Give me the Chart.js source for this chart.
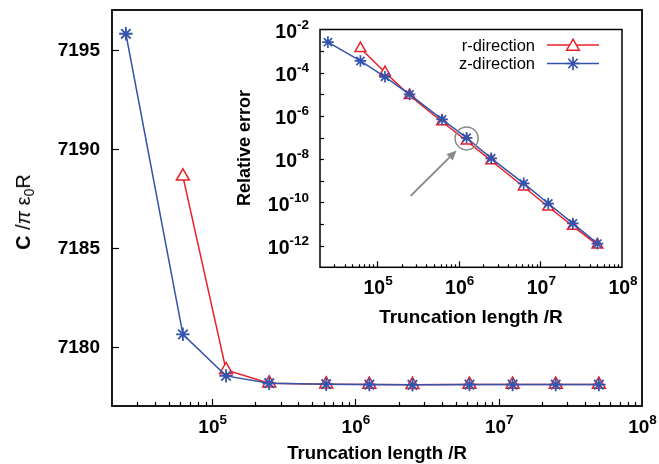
<!DOCTYPE html>
<html><head><meta charset="utf-8">
<script src="https://cdn.jsdelivr.net/npm/chart.js@4/dist/chart.umd.min.js"></script>
<style>
html,body{margin:0;padding:0;background:#fff;}
#wrap{position:relative;width:659px;height:464px;overflow:hidden;font-family:"Liberation Sans",Arial,Helvetica,sans-serif;}
canvas{position:absolute;left:0;top:0;}
.lbl{position:absolute;white-space:nowrap;color:#000;}
.sup{position:relative;line-height:0;}
</style></head><body>
<div id="wrap">
<canvas id="main" width="659" height="464"></canvas>
<canvas id="inset" width="659" height="464"></canvas>
</div>
<script>
// ---- data ----
const truncLength = [2.5e4, 6.25e4, 1.25e5, 2.5e5, 6.25e5, 1.25e6, 2.5e6, 6.25e6, 1.25e7, 2.5e7, 5e7];
const capZ = [7195.8, 7180.62, 7178.52, 7178.15, 7178.1, 7178.08, 7178.07, 7178.08, 7178.08, 7178.08, 7178.08];
const capR = [null, 7188.6, 7178.82, 7178.15, 7178.1, 7178.08, 7178.07, 7178.08, 7178.08, 7178.08, 7178.08];
const errZ = [2.6e-3, 3.5e-4, 6.5e-5, 1.0e-5, 6.9e-7, 9.8e-8, 1.1e-8, 7.6e-10, 8.9e-11, 1.07e-11, 1.25e-12];
const errR = [null, 1.35e-3, 1.05e-4, 9e-6, 5.4e-7, 7e-8, 8.5e-9, 5.3e-10, 6.3e-11, 8e-12, 1.1e-12];
const seriesNames = ['r-direction', 'z-direction'];
const mainYTicks = [7180, 7185, 7190, 7195];
const mainXTickExp = [5, 6, 7, 8];
const insetXTickExp = [5, 6, 7, 8];
const insetYTickExp = [-2, -4, -6, -8, -10, -12];
const annotatedIndex = 5;

const RED = '#e8202a', BLUE = '#3354ac', GRAY = '#8a8a8a';
const wrap = document.getElementById('wrap');

function pts(xs, ys) { const o = []; xs.forEach((x, i) => { if (ys[i] != null) o.push({x: x, y: ys[i]}); }); return o; }

function lbl(html, x, base, size, align, bold) {
  const d = document.createElement('div');
  d.className = 'lbl';
  d.innerHTML = html;
  d.style.fontSize = size + 'px';
  d.style.lineHeight = size + 'px';
  d.style.fontWeight = bold ? 'bold' : 'normal';
  d.style.left = x + 'px';
  d.style.top = (base - size * 0.8465) + 'px';
  if (align === 'center') d.style.transform = 'translateX(-50%)';
  else if (align === 'right') d.style.transform = 'translateX(-100%)';
  wrap.appendChild(d);
  return d;
}
function vlbl(html, cx, cy, size, bold) {
  const d = document.createElement('div');
  d.className = 'lbl';
  d.innerHTML = html;
  d.style.fontSize = size + 'px';
  d.style.lineHeight = size + 'px';
  d.style.fontWeight = bold ? 'bold' : 'normal';
  d.style.left = cx + 'px';
  d.style.top = cy + 'px';
  d.style.transform = 'translate(-50%,-50%) rotate(-90deg)';
  wrap.appendChild(d);
}
function pow10(e, supSize, raise) {
  return '10<span class="sup" style="font-size:' + supSize + 'px;top:-' + raise + 'px">' + e + '</span>';
}

function drawTri(ctx, x, y, r) {
  ctx.beginPath();
  for (let k = 0; k < 3; k++) {
    const a = k * 2 * Math.PI / 3;
    const px = x + Math.sin(a) * r, py = y - Math.cos(a) * r;
    k ? ctx.lineTo(px, py) : ctx.moveTo(px, py);
  }
  ctx.closePath(); ctx.fillStyle = '#fff'; ctx.fill(); ctx.stroke();
}
function drawStar(ctx, x, y, r) {
  ctx.beginPath();
  ctx.moveTo(x - r, y); ctx.lineTo(x + r, y);
  ctx.moveTo(x, y - r); ctx.lineTo(x, y + r);
  const d = r * Math.SQRT1_2;
  ctx.moveTo(x - d, y - d); ctx.lineTo(x + d, y + d);
  ctx.moveTo(x - d, y + d); ctx.lineTo(x + d, y - d);
  ctx.stroke();
}

function baseOptions(yType, ymin, ymax, padding) {
  return {
    responsive: false, animation: false, devicePixelRatio: 1, events: [],
    layout: {padding: padding},
    plugins: {legend: {display: false}, tooltip: {enabled: false}, title: {display: false}},
    scales: {
      x: {type: 'logarithmic', min: 2e4, max: 1e8, ticks: {display: false},
          grid: {display: false, drawTicks: false}, border: {display: false},
          afterFit: s => { s.height = 0; }},
      y: {type: yType, min: ymin, max: ymax, ticks: {display: false},
          grid: {display: false, drawTicks: false}, border: {display: false},
          afterFit: s => { s.width = 0; }}
    }
  };
}

function ds(label, data, color, style, r, order, pbw) {
  return {label: label, data: data, borderColor: color, borderWidth: 1.5, tension: 0,
    pointStyle: style, pointRadius: r, pointBorderColor: color, pointBorderWidth: pbw,
    pointBackgroundColor: '#fff', fill: false, clip: false, order: order};
}

function minorTicks(ctx, xs, area, majLen, minLen) {
  for (let e = 4; e <= 7; e++) {
    for (let m = 1; m <= 9; m++) {
      const v = m * Math.pow(10, e);
      if (v <= xs.min * 1.0001 || v >= xs.max * 0.9999) continue;
      const px = Math.round(xs.getPixelForValue(v)) + 0.5;
      const len = m === 1 ? majLen : minLen;
      ctx.beginPath(); ctx.moveTo(px, area.bottom); ctx.lineTo(px, area.bottom - len); ctx.stroke();
    }
  }
}

// ---- main chart ----
const mainPlugin = {
  id: 'mainDeco',
  afterDraw(chart) {
    const ctx = chart.ctx, a = chart.chartArea, xs = chart.scales.x, ys = chart.scales.y;
    ctx.save();
    ctx.strokeStyle = '#000'; ctx.lineWidth = 1.2;
    minorTicks(ctx, xs, a, 7, 4);
    mainYTicks.forEach(v => {
      const py = Math.round(ys.getPixelForValue(v)) + 0.5;
      ctx.beginPath(); ctx.moveTo(a.left, py); ctx.lineTo(a.left + 7, py); ctx.stroke();
    });
    ctx.lineWidth = 1.8;
    ctx.strokeRect(a.left, a.top, a.right - a.left, a.bottom - a.top);
    ctx.restore();
  }
};
const mainChart = new Chart(document.getElementById('main'), {
  type: 'line',
  data: {datasets: [
    ds(seriesNames[0], pts(truncLength, capR), RED, 'triangle', 7.5, 1, 1.5),
    ds(seriesNames[1], pts(truncLength, capZ), BLUE, 'star', 6.7, 0, 1.8)
  ]},
  options: baseOptions('linear', 7177, 7197, {left: 112, top: 10, right: 17, bottom: 58}),
  plugins: [mainPlugin]
});

// ---- inset chart ----
const insetPlugin = {
  id: 'insetDeco',
  beforeDatasetsDraw(chart) {
    const ctx = chart.ctx, a = chart.chartArea;
    ctx.save(); ctx.fillStyle = '#fff'; ctx.fillRect(a.left, a.top, a.right - a.left, a.bottom - a.top); ctx.restore();
  },
  afterDraw(chart) {
    const ctx = chart.ctx, a = chart.chartArea, xs = chart.scales.x, ys = chart.scales.y;
    ctx.save();
    ctx.strokeStyle = '#000'; ctx.lineWidth = 1.2;
    minorTicks(ctx, xs, a, 6, 3);
    for (let e = -12; e <= -3; e++) {
      const py = Math.round(ys.getPixelForValue(Math.pow(10, e))) + 0.5;
      ctx.beginPath(); ctx.moveTo(a.left, py); ctx.lineTo(a.left + 4, py); ctx.stroke();
    }
    ctx.lineWidth = 1.5;
    ctx.strokeRect(a.left, a.top, a.right - a.left, a.bottom - a.top);
    // legend samples
    const lx0 = a.right - 75, lx1 = a.right - 23, lxm = (lx0 + lx1) / 2;
    const ly = [a.top + 15.5, a.top + 34];
    ctx.lineWidth = 1.5;
    ctx.strokeStyle = RED;
    ctx.beginPath(); ctx.moveTo(lx0, ly[0]); ctx.lineTo(lx1, ly[0]); ctx.stroke();
    drawTri(ctx, lxm, ly[0] + 1.5, 7.3);
    ctx.strokeStyle = BLUE;
    ctx.beginPath(); ctx.moveTo(lx0, ly[1]); ctx.lineTo(lx1, ly[1]); ctx.stroke();
    ctx.lineWidth = 1.7;
    drawStar(ctx, lxm, ly[1], 6.7);
    // annotation circle + arrow
    const cx = xs.getPixelForValue(truncLength[annotatedIndex]);
    const cy = ys.getPixelForValue(errZ[annotatedIndex]) + 0.6;
    ctx.strokeStyle = GRAY; ctx.fillStyle = GRAY; ctx.lineWidth = 1.5;
    ctx.beginPath(); ctx.arc(cx, cy, 11.5, 0, Math.PI * 2); ctx.stroke();
    const sx = cx - 56, sy = cy + 57.5, tx = cx - 10, ty = cy + 12;
    const ang = Math.atan2(ty - sy, tx - sx), hl = 10, hw = 4.5;
    const bx = tx - Math.cos(ang) * hl, by = ty - Math.sin(ang) * hl;
    ctx.lineWidth = 2;
    ctx.beginPath(); ctx.moveTo(sx, sy); ctx.lineTo(bx, by); ctx.stroke();
    ctx.beginPath(); ctx.moveTo(tx, ty);
    ctx.lineTo(bx + Math.sin(ang) * hw, by - Math.cos(ang) * hw);
    ctx.lineTo(bx - Math.sin(ang) * hw, by + Math.cos(ang) * hw);
    ctx.closePath(); ctx.fill();
    ctx.restore();
  }
};
const insetChart = new Chart(document.getElementById('inset'), {
  type: 'line',
  data: {datasets: [
    ds(seriesNames[0], pts(truncLength, errR), RED, 'triangle', 6.2, 1, 1.5),
    ds(seriesNames[1], pts(truncLength, errZ), BLUE, 'star', 5.8, 0, 1.7)
  ]},
  options: baseOptions('logarithmic', 1e-13, 1e-2, {left: 320, top: 29.5, right: 37, bottom: 196.7}),
  plugins: [insetPlugin]
});

// ---- text labels positioned from the library's scales ----
(function () {
  const xs = mainChart.scales.x, ys = mainChart.scales.y, a = mainChart.chartArea;
  mainYTicks.forEach(v => lbl(String(v), a.left - 12, ys.getPixelForValue(v) + 6.6, 19, 'right', true));
  mainXTickExp.forEach(e => lbl(pow10(e, 13.5, 9), xs.getPixelForValue(Math.pow(10, e)) + 0.5, a.bottom + 27.5, 19, 'center', true));
  lbl('Truncation length /R', (a.left + a.right) / 2, 460, 18.6, 'center', true);
  vlbl('<b>C</b>&nbsp;/<i>π</i>&nbsp;ε<span class="sup" style="font-size:14px;top:4px">0</span>R', 23, 212, 20, false);

  const ix = insetChart.scales.x, iy = insetChart.scales.y, b = insetChart.chartArea;
  insetYTickExp.forEach(e => lbl(pow10(e, 13.5, 9), b.left - 11, iy.getPixelForValue(Math.pow(10, e)) + 8.7, 19.5, 'right', true));
  insetXTickExp.forEach(e => lbl(pow10(e, 13.5, 9), ix.getPixelForValue(Math.pow(10, e)) + 1, b.bottom + 27.7, 19.5, 'center', true));
  lbl('Truncation length /R', (b.left + b.right) / 2, 323, 19, 'center', true);
  vlbl('<b>Relative error</b>', 243.8, (b.top + b.bottom) / 2, 18, true);
  lbl(seriesNames[0], b.right - 87, b.top + 21.2, 16.5, 'right', false);
  lbl(seriesNames[1], b.right - 87, b.top + 39.8, 16.5, 'right', false);
})();
</script>
</body></html>
